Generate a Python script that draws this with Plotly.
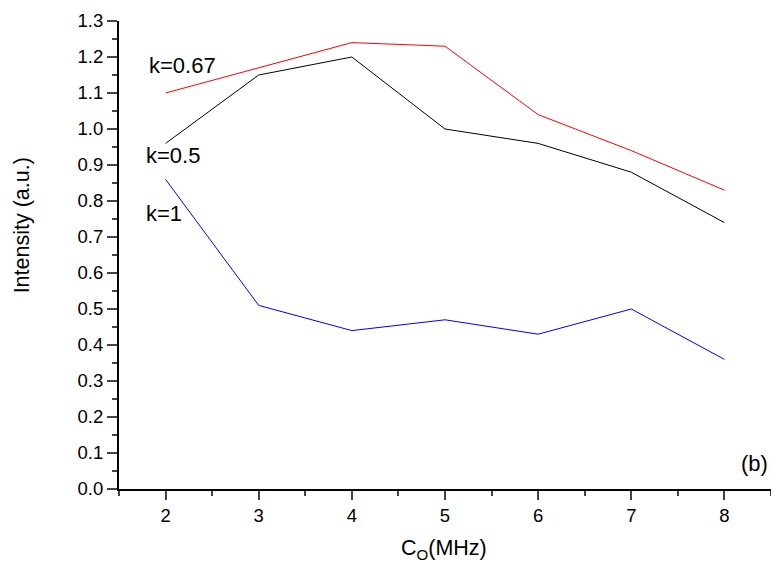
import plotly.graph_objects as go

freq = [2, 3, 4, 5, 6, 7, 8]
k067 = [1.10, 1.17, 1.24, 1.23, 1.04, 0.94, 0.83]
k05 = [0.96, 1.15, 1.20, 1.00, 0.96, 0.88, 0.74]
k1 = [0.86, 0.51, 0.44, 0.47, 0.43, 0.50, 0.36]

FONT = "Liberation Sans, Arial, sans-serif"

fig = go.Figure()
fig.add_trace(go.Scatter(x=freq, y=k067, mode="lines", line=dict(color="#FF0000", width=1), name="k=0.67"))
fig.add_trace(go.Scatter(x=freq, y=k05, mode="lines", line=dict(color="#000000", width=1), name="k=0.5"))
fig.add_trace(go.Scatter(x=freq, y=k1, mode="lines", line=dict(color="#0000FF", width=1), name="k=1"))

labels = [("k=0.67", 1.80, 1.177), ("k=0.5", 1.77, 0.927), ("k=1", 1.77, 0.765)]
for t, x, y in labels:
    fig.add_annotation(x=x, y=y, text=t, showarrow=False, xanchor="left", yanchor="middle",
                       font=dict(family=FONT, size=22, color="black"))
fig.add_annotation(x=1.0, y=0.07, xref="paper", text="(b)", showarrow=False, xanchor="right",
                   yanchor="middle", xshift=-1, font=dict(family=FONT, size=22, color="black"))
fig.add_annotation(x=-0.149, xref="paper", y=0.563, yref="paper", text="Intensity (a.u.)", textangle=-90,
                   showarrow=False, xanchor="center", yanchor="middle",
                   font=dict(family=FONT, size=21.5, color="black"))
fig.add_annotation(x=0.498, xref="paper", y=-0.097, yref="paper", text="C<sub>O</sub>(MHz)",
                   showarrow=False, xanchor="center", yanchor="top",
                   font=dict(family=FONT, size=21.5, color="black"))

fig.update_layout(
    width=771, height=562,
    margin=dict(l=119, r=0, t=21, b=73),
    paper_bgcolor="white", plot_bgcolor="white",
    showlegend=False,
    font=dict(family=FONT, size=18.5, color="black"),
    xaxis=dict(range=[1.5, 8.5], dtick=1, tick0=0, ticks="outside", ticklen=9, tickwidth=2,
               showline=True, linewidth=2, linecolor="black", showgrid=False, zeroline=False,
               tickfont=dict(family=FONT, size=18.5),
               minor=dict(dtick=0.5, tick0=0, ticks="outside", ticklen=5, tickwidth=2, showgrid=False)),
    yaxis=dict(range=[0, 1.3], dtick=0.1, tick0=0, ticks="outside", ticklen=10, tickwidth=2,
               tickformat=".1f",
               showline=True, linewidth=2, linecolor="black", showgrid=False, zeroline=False,
               tickfont=dict(family=FONT, size=18.5),
               minor=dict(dtick=0.05, tick0=0, ticks="outside", ticklen=5, tickwidth=2, showgrid=False)),
)

fig.write_html("out.html")
